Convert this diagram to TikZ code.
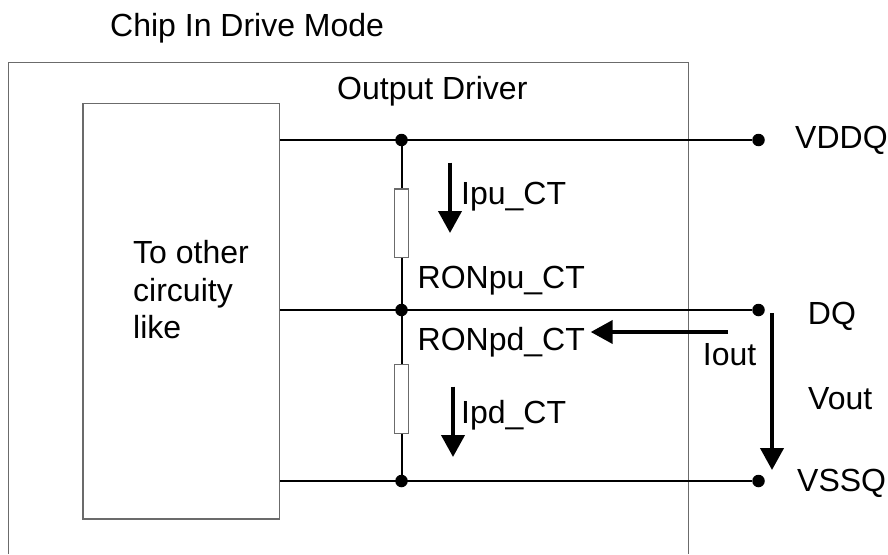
\documentclass[tikz,border=0pt]{standalone}
\usepackage{fontspec}
\setmainfont{Liberation Sans}
\usetikzlibrary{arrows.meta}
\definecolor{boxgray}{rgb}{0.42,0.42,0.42}
\tikzset{
  wire/.style={line width=2pt, black},
  frame/.style={draw=boxgray, line width=1.5pt},
  dot/.style={circle, fill=black, inner sep=0pt, minimum size=12.5pt},
  res/.style={draw=boxgray, line width=1.2pt, fill=white, inner sep=0pt, minimum width=14.4pt, minimum height=68.7pt},
  curr/.style={line width=4pt, -{Triangle[width=23pt,length=22pt]}},
  lbl/.style={anchor=base west, inner sep=0pt, font=\fontsize{32}{37.5}\selectfont},
}
\begin{document}
\begin{tikzpicture}[x=1pt,y=-1pt]
\useasboundingbox (0,0) rectangle (888,554);
% outer chip frame (continues below the picture)
\draw[frame] (8.3,554) -- (8.3,62.7) -- (688.3,62.7) -- (688.3,554);
% inner block
\node[frame, anchor=north west, inner sep=0pt, minimum width=196.4pt, minimum height=415.6pt] (inner) at (82.3,102.7) {};
\node[anchor=north west, inner sep=0pt, align=left, font=\fontsize{32}{37.5}\selectfont] (other) at (133,240.5) {To other\\circuity\\like};
% titles
\node[lbl] (title) at (110,36) {Chip In Drive Mode};
\node[lbl] (od) at (337,99) {Output Driver};
% junctions and terminals
\node[dot] (j1) at (401.5,140) {};
\node[dot] (j2) at (401.5,310) {};
\node[dot] (j3) at (401.5,481) {};
\node[dot] (t1) at (758.5,140) {};
\node[dot] (t2) at (758.5,310) {};
\node[dot] (t3) at (758.5,481) {};
% resistors
\node[res] (r1) at (401.5,223.4) {};
\node[res] (r2) at (401.5,399) {};
% rails
\draw[wire] (inner.east |- j1) -- (t1);
\draw[wire] (inner.east |- j2) -- (t2);
\draw[wire] (inner.east |- j3) -- (t3);
\draw[wire] (j1) -- (r1.north);
\draw[wire] (r1.south) -- (j2);
\draw[wire] (j2) -- (r2.north);
\draw[wire] (r2.south) -- (j3);
% current and voltage arrows
\coordinate (ipus) at (450,162.7);
\coordinate (ipue) at (450,233);
\coordinate (ipds) at (453,386.7);
\coordinate (ipde) at (453,457);
\coordinate (ious) at (728,332);
\coordinate (ioue) at (590.7,332);
\coordinate (vos) at (772,313);
\coordinate (voe) at (772,470);
\draw[curr] (ipus) -- (ipue);
\draw[curr] (ipds) -- (ipde);
\draw[curr] (ious) -- (ioue);
\draw[curr] (vos) -- (voe);
% labels
\node[lbl] (lipu) at (461,204) {Ipu\_CT};
\node[lbl] (lronpu) at (417.5,288) {RONpu\_CT};
\node[lbl] (lronpd) at (417.5,350.7) {RONpd\_CT};
\node[lbl] (lipd) at (461,423) {Ipd\_CT};
\node[lbl] (lvddq) at (795,148) {VDDQ};
\node[lbl] (ldq) at (807.7,324) {DQ};
\node[lbl] (liout) at (702.7,365) {Iout};
\node[lbl] (lvout) at (808,409) {Vout};
\node[lbl] (lvssq) at (797,491.7) {VSSQ};
\end{tikzpicture}
\end{document}
